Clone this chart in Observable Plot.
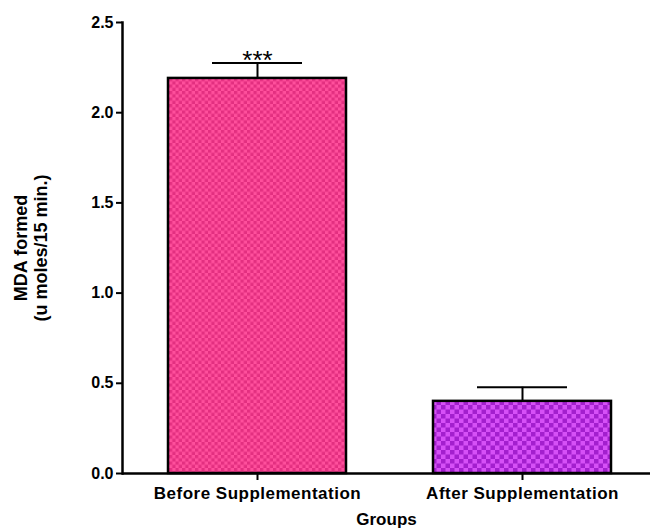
<!DOCTYPE html>
<html><head><meta charset="utf-8">
<script src="https://cdn.jsdelivr.net/npm/d3@7"></script>
<script src="https://cdn.jsdelivr.net/npm/@observablehq/plot@0.6"></script>
<style>body{margin:0;background:#fff;} svg{display:block}</style>
</head><body><div id="chart"></div>
<script>
const groups = ["Before Supplementation", "After Supplementation"];
const means = [2.19, 0.40];
const errors = [0.085, 0.078];
const significance = ["***", ""];
const fills = ["url(#pinkChecker)", "url(#purpleChecker)"];
const yTicks = [0, 0.5, 1.0, 1.5, 2.0, 2.5];
const yTitle = "MDA formed\n(u moles/15 min.)";
const xTitle = "Groups";

const data = groups.map((g, i) => ({group: g, mean: means[i], err: errors[i], top: means[i] + errors[i], sig: significance[i], fill: fills[i]}));

const font = "'Liberation Sans', Arial, sans-serif";
const marks = [];
data.forEach(d => {
  marks.push(Plot.barY([d], {x: "group", y: "mean", fill: d.fill, stroke: "#000", strokeWidth: 2.5}));
});
marks.push(
  Plot.ruleX(data, {x: "group", y1: "mean", y2: "top", stroke: "#000", strokeWidth: 2}),
  Plot.tickY(data, {x: "group", y: "top", stroke: "#000", strokeWidth: 2, insetLeft: 44, insetRight: 44}),
  Plot.text(data, {x: "group", y: "top", text: "sig", fontSize: 26, lineAnchor: "middle", dy: -2, fill: "#000", stroke: "none", style: "letter-spacing:1.5px"}),
  Plot.ruleY([0], {stroke: "#000", strokeWidth: 2.5}),
  Plot.frame({anchor: "left", stroke: "#000", strokeWidth: 2.5}),
  Plot.axisY({ticks: yTicks, tickFormat: d3.format(".1f"), tickSize: 6, tickPadding: 3, fontSize: 16, fontWeight: "bold", label: null, strokeWidth: 2, color: "#000"}),
  Plot.axisX({tickSize: 7, tickPadding: 6, fontSize: 17, fontWeight: "bold", label: null, strokeWidth: 2, color: "#000"}),
  Plot.text([xTitle], {frameAnchor: "bottom", dy: 51, fontSize: 17, fontWeight: "bold", lineAnchor: "bottom", fill: "#000"}),
  Plot.text([yTitle], {frameAnchor: "left", textAnchor: "middle", dx: -92, rotate: -90, fontSize: 18, fontWeight: "bold", lineHeight: 1.15, fill: "#000"})
);

const chart = Plot.plot({
  width: 650,
  height: 531,
  marginLeft: 122,
  marginRight: 0,
  marginTop: 22,
  marginBottom: 58,
  style: {fontFamily: font, background: "#fff", color: "#000"},
  x: {domain: groups, range: [122, 656], paddingInner: 0.33, paddingOuter: 0.17, label: null},
  y: {domain: [0, 2.5], label: null},
  marks
});

const ns = "http://www.w3.org/2000/svg";
const defs = document.createElementNS(ns, "defs");
defs.innerHTML = `
<pattern id="pinkChecker" patternUnits="userSpaceOnUse" width="6.5" height="6.5">
  <rect width="6.5" height="6.5" fill="#ff4f9c"/>
  <rect width="3.25" height="3.25" fill="#e32f80"/>
  <rect x="3.25" y="3.25" width="3.25" height="3.25" fill="#e32f80"/>
</pattern>
<pattern id="purpleChecker" patternUnits="userSpaceOnUse" width="9" height="9">
  <rect width="9" height="9" fill="#d650f7"/>
  <rect width="4.5" height="4.5" fill="#a31fce"/>
  <rect x="4.5" y="4.5" width="4.5" height="4.5" fill="#a31fce"/>
</pattern>`;
chart.insertBefore(defs, chart.firstChild);
chart.querySelectorAll("[aria-label='x-axis tick label'] text, [aria-label='x-axis tick label']").forEach(e => e.style.letterSpacing = "0.5px");
document.getElementById("chart").appendChild(chart);
</script>
</body></html>
